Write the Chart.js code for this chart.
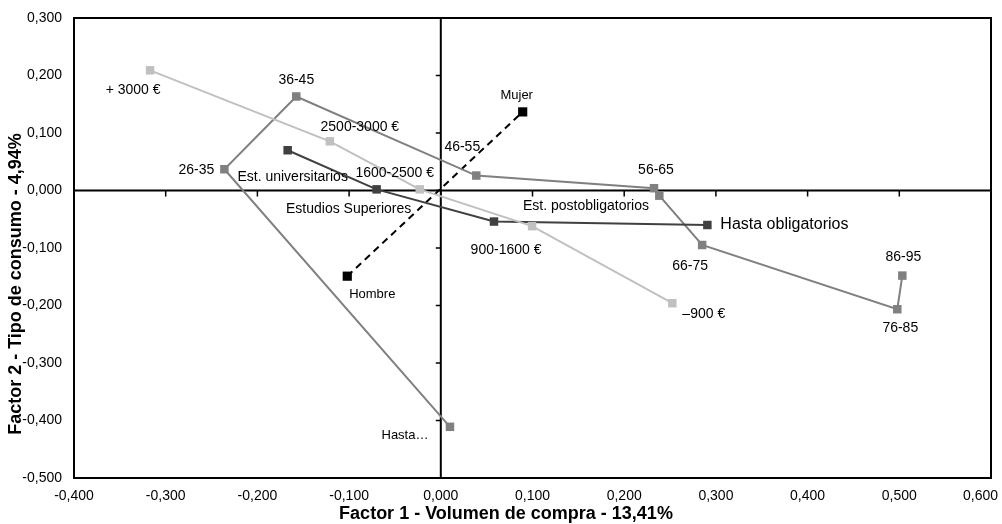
<!DOCTYPE html>
<html>
<head>
<meta charset="utf-8">
<script src="https://cdn.jsdelivr.net/npm/chart.js@4/dist/chart.umd.min.js"></script>
<style>
body{margin:0;background:#fff;}
#wrap{width:1002px;height:524px;position:relative;}
</style>
</head>
<body>
<div id="wrap"><canvas id="chart"></canvas></div>
<script>
// income groups
let incomeText = ["+ 3000 €","2500-3000 €","1600-2500 €","900-1600 €","\u2013900 €"];
let incomeX = [-0.317,-0.121,-0.023,0.0995,0.2525];
let incomeY = [0.209,0.0855,0.002,-0.062,-0.196];

// education
let eduText = ["Est. universitarios","Estudios Superiores","Est. postobligatorios","Hasta obligatorios"];
let eduX = [-0.167,-0.070,0.058,0.2907];
let eduY = [0.070,0.002,-0.054,-0.060];

// age groups
let ageText = ["Hasta\u2026","26-35","36-45","46-55","56-65","","66-75","76-85","86-95"];
let ageX = [0.010,-0.236,-0.1576,0.0387,0.2325,0.2383,0.285,0.4978,0.5033];
let ageY = [-0.411,0.037,0.1635,0.026,0.004,-0.009,-0.0948,-0.2065,-0.148];

// gender
let genderText = ["Hombre","Mujer"];
let genderX = [-0.102,0.0893];
let genderY = [-0.149,0.1367];

let xTitle = "Factor 1 - Volumen de compra - 13,41%";
let yTitle = "Factor 2 - Tipo de consumo - 4,94%";

// label placement: [dx, dy, align, size]
let incomeOff = [[-17,20],[30,-14],[-25,-16],[-26,24],[10,11,"left"]];
let eduOff = [[5,27],[-28,20],[92,-15],[13,0,"left",16]];
let ageOff = [[-45,9,"center",13],[-28,1],[0,-16],[-14,-28],[2,-18],[0,0],[-12,21],[3,19],[1,-18]];
let genderOff = [[25,18,"center",13],[-6,-16,"center",13]];

function pts(xs,ys){
  return xs.map((x,i)=>({x:x,y:ys[i]}));
}

function fmt(v){
  return v.toFixed(3).replace(".",",");
}

const FONT = '"Liberation Sans", Arial, sans-serif';

const axesLines = {
  id:"axesLines",
  beforeDatasetsDraw(chart){
    let ctx=chart.ctx;
    let a=chart.chartArea;
    let xs=chart.scales.x, ys=chart.scales.y;
    let x0=xs.getPixelForValue(0), y0=ys.getPixelForValue(0);
    ctx.save();
    ctx.strokeStyle="#000";
    ctx.lineWidth=2;
    ctx.strokeRect(a.left,a.top,a.right-a.left,a.bottom-a.top);
    ctx.beginPath();
    ctx.moveTo(x0,a.top); ctx.lineTo(x0,a.bottom);
    ctx.moveTo(a.left,y0); ctx.lineTo(a.right,y0);
    ctx.stroke();
    ctx.lineWidth=1.5;
    ctx.beginPath();
    xs.ticks.forEach(t=>{
      let px=xs.getPixelForValue(t.value);
      ctx.moveTo(px,y0); ctx.lineTo(px,y0+6);
    });
    ys.ticks.forEach(t=>{
      let py=ys.getPixelForValue(t.value);
      ctx.moveTo(x0,py); ctx.lineTo(x0-5,py);
    });
    ctx.stroke();
    // axis titles sit off-centre in the original, so place them by hand
    ctx.font="bold 18px "+FONT;
    ctx.fillStyle="#000";
    ctx.textAlign="center";
    ctx.textBaseline="middle";
    ctx.fillText(xTitle,506,514);
    ctx.translate(16,284);
    ctx.rotate(-Math.PI/2);
    ctx.fillText(yTitle,0,0);
    ctx.restore();
  }
};

const pointLabels = {
  id:"pointLabels",
  afterDatasetsDraw(chart){
    let ctx=chart.ctx;
    chart.data.datasets.forEach((ds,i)=>{
      let meta=chart.getDatasetMeta(i);
      meta.data.forEach((pt,j)=>{
        let text=ds.pointText[j];
        if(!text) return;
        let off=ds.textOff[j];
        ctx.save();
        ctx.font=(off[3]||14)+"px "+FONT;
        ctx.fillStyle="#000";
        ctx.textAlign=off[2]||"center";
        ctx.textBaseline="middle";
        ctx.fillText(text,pt.x+off[0],pt.y+off[1]);
        ctx.restore();
      });
    });
  }
};

function series(xs,ys,text,off,color,radius,dash){
  return {
    data:pts(xs,ys),
    pointText:text,
    textOff:off,
    showLine:true,
    borderColor:color,
    backgroundColor:color,
    borderWidth:2,
    borderDash:dash||[],
    pointStyle:"rect",
    pointRadius:radius,
    pointHoverRadius:radius,
    pointBorderWidth:0,
    tension:0
  };
}

new Chart(document.getElementById("chart"),{
  type:"scatter",
  data:{
    datasets:[
      series(incomeX,incomeY,incomeText,incomeOff,"#c0c0c0",6),
      series(eduX,eduY,eduText,eduOff,"#404040",6),
      series(ageX,ageY,ageText,ageOff,"#808080",6),
      series(genderX,genderY,genderText,genderOff,"#000000",6.5,[7,5])
    ]
  },
  options:{
    responsive:true,
    maintainAspectRatio:false,
    animation:false,
    layout:{padding:{top:18,right:11,left:0,bottom:0}},
    plugins:{legend:{display:false},tooltip:{enabled:false}},
    scales:{
      x:{
        type:"linear",
        min:-0.4,max:0.6,
        afterFit(s){ s.height=46; s.paddingRight=0; s.paddingLeft=0; },
        grid:{display:false},
        border:{display:false},
        ticks:{stepSize:0.1,padding:2,color:"#000",font:{family:FONT,size:14},maxRotation:0,
          callback:v=>fmt(v)+(Math.abs(v-0.6)<1e-9 ? "\u2003\u2002" : "")}
      },
      y:{
        type:"linear",
        min:-0.5,max:0.3,
        afterFit(s){ s.width=74; },
        grid:{display:false},
        border:{display:false},
        ticks:{stepSize:0.1,padding:4,color:"#000",font:{family:FONT,size:14},callback:v=>fmt(v)}
      }
    }
  },
  plugins:[axesLines,pointLabels]
});
</script>
</body>
</html>
